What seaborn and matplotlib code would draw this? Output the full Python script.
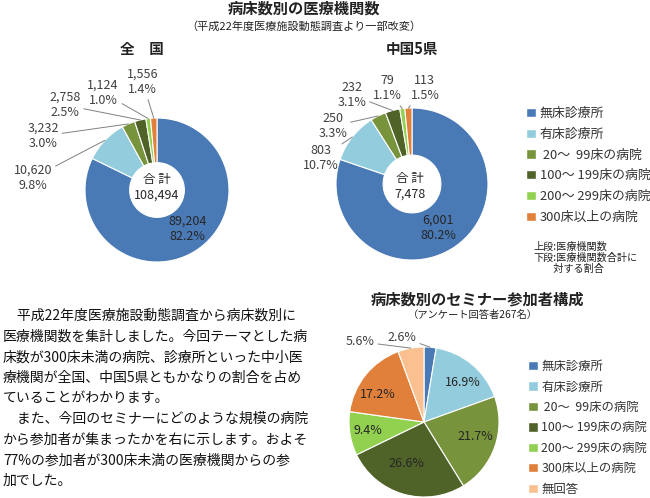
import numpy as np
import matplotlib
matplotlib.use('Agg')
import matplotlib.pyplot as plt
import seaborn as sns
from matplotlib.patches import Patch

# data
categories = ['無床診療所', '有床診療所', ' 20～  99床の病院', '100～ 199床の病院',
              '200～ 299床の病院', '300床以上の病院']
national_counts = [89204, 10620, 3232, 2758, 1124, 1556]
chugoku_counts = [6001, 803, 250, 232, 79, 113]
seminar_categories = categories + ['無回答']
seminar_pct = [2.6, 16.9, 21.7, 26.6, 9.4, 17.2, 5.6]

colors = ['#4a7ab5', '#93cddd', '#77933c', '#4f6228', '#92d050', '#e0803a', '#fac090']

body_lines = [
    '　平成22年度医療施設動態調査から病床数別に',
    '医療機関数を集計しました。今回テーマとした病',
    '床数が300床未満の病院、診療所といった中小医',
    '療機関が全国、中国5県ともかなりの割合を占め',
    'ていることがわかります。',
    '　また、今回のセミナーにどのような規模の病院',
    'から参加者が集まったかを右に示します。およそ',
    '77%の参加者が300床未満の医療機関からの参',
    '加でした。',
]

W, H = 650, 498
TXT = '#262626'
LINE = '#808080'

sns.set_theme(style='white')
plt.rcParams['font.family'] = ['Noto Sans CJK JP', 'DejaVu Sans']

fig = plt.figure(figsize=(W / 100, H / 100), dpi=100)


def px_axes(cx, cy, hw, hh):
    return fig.add_axes([(cx - hw) / W, 1 - (cy + hh) / H, 2 * hw / W, 2 * hh / H])


def set_limits(ax, r, hw, hh):
    ax.set_xlim(-hw / r, hw / r)
    ax.set_ylim(-hh / r, hh / r)
    ax.axis('off')


def donut(cx, cy, r, counts, label_pos, value_pos, total_pos):
    hw, hh = 160, 125
    ax = px_axes(cx, cy, hw, hh)
    wedges, _ = ax.pie(counts, colors=colors[:len(counts)], startangle=90, counterclock=False,
                       wedgeprops=dict(width=0.62, edgecolor='white', linewidth=0.8))
    total = sum(counts)
    for i, (w, c) in enumerate(zip(wedges, counts)):
        txt = f'{c:,}\n{c / total * 100:.1f}%'
        if i == 0:
            ax.text(*value_pos, txt, ha='center', va='center', fontsize=9, color=TXT,
                    linespacing=1.25)
        else:
            mid = np.deg2rad((w.theta1 + w.theta2) / 2)
            ax.annotate(txt, xy=(np.cos(mid), np.sin(mid)), xytext=label_pos[i - 1],
                        ha='center', va='center', fontsize=9, color='#404040', linespacing=1.25,
                        arrowprops=dict(arrowstyle='-', color=LINE, lw=0.7, shrinkA=0, shrinkB=0))
    ax.text(*total_pos, f'合 計\n{total:,}', ha='center', va='center', fontsize=9,
            color=TXT, linespacing=1.3)
    set_limits(ax, r, hw, hh)


# headings
fig.text(304 / W, 1 - 9 / H, '病床数別の医療機関数', ha='center', va='center',
         fontsize=11, fontweight='bold', color='#222222')
fig.text(304 / W, 1 - 27 / H, '（平成22年度医療施設動態調査より一部改変）', ha='center',
         va='center', fontsize=8, color='#222222')
fig.text(142 / W, 1 - 49 / H, '全　国', ha='center', va='center', fontsize=10.5,
         fontweight='bold', color='#222222')
fig.text(412 / W, 1 - 49 / H, '中国5県', ha='center', va='center', fontsize=10.5,
         fontweight='bold', color='#222222')

donut(157, 190, 72, national_counts,
      [(-1.72, 0.17), (-1.58, 0.75), (-1.28, 1.18), (-0.75, 1.35), (-0.2, 1.5)],
      (0.42, -0.54), (0, 0.04))
donut(412, 184, 76, chugoku_counts,
      [(-1.2, 0.34), (-1.04, 0.76), (-0.79, 1.17), (-0.33, 1.26), (0.17, 1.26)],
      (0.34, -0.58), (-0.03, -0.03))

leg_kw = dict(loc='upper left', frameon=False, handletextpad=0.3, borderpad=0,
              borderaxespad=0, labelcolor='#333333')
fig.legend([Patch(facecolor=c) for c in colors[:6]], categories,
           bbox_to_anchor=(526 / W, 1 - 107 / H), fontsize=9.3, handlelength=0.75,
           handleheight=0.75, labelspacing=0.6, **leg_kw)

for i, s in enumerate(['上段:医療機関数', '下段:医療機関数合計に', '　　対する割合']):
    fig.text(533 / W, 1 - (247 + i * 11) / H, s, ha='left', va='center', fontsize=7.3,
             color='#222222')

# body text
for i, s in enumerate(body_lines):
    fig.text(3 / W, 1 - (316 + i * 20.6) / H, s, ha='left', va='center', fontsize=10,
             color='#111111')

# seminar pie
fig.text(477 / W, 1 - 300 / H, '病床数別のセミナー参加者構成', ha='center', va='center',
         fontsize=11, fontweight='bold', color='#222222')
fig.text(473 / W, 1 - 315 / H, '（アンケート回答者267名）', ha='center', va='center',
         fontsize=7.4, color='#222222')

pcx, pcy, pr, phw, phh = 424, 422, 75, 100, 90
ax = px_axes(pcx, pcy, phw, phh)
wedges, _ = ax.pie(seminar_pct, colors=colors, startangle=90, counterclock=False,
                   wedgeprops=dict(edgecolor='white', linewidth=0.8))
pie_label_pos = [(-0.29, 1.13), (0.52, 0.52), (0.68, -0.2), (-0.23, -0.55),
                 (-0.75, -0.11), (-0.61, 0.36), (-0.85, 1.07)]
for i, (w, p) in enumerate(zip(wedges, seminar_pct)):
    if i in (0, 6):
        mid = np.deg2rad((w.theta1 + w.theta2) / 2)
        ax.annotate(f'{p:.1f}%', xy=(np.cos(mid), np.sin(mid)), xytext=pie_label_pos[i],
                    ha='center', va='center', fontsize=9, color='#404040',
                    arrowprops=dict(arrowstyle='-', color=LINE, lw=0.7, shrinkA=0, shrinkB=0))
    else:
        ax.text(*pie_label_pos[i], f'{p:.1f}%', ha='center', va='center', fontsize=9, color=TXT)
set_limits(ax, pr, phw, phh)

fig.legend([Patch(facecolor=c) for c in colors], seminar_categories,
           bbox_to_anchor=(528 / W, 1 - 360 / H), fontsize=8.9, handlelength=0.78,
           handleheight=0.78, labelspacing=0.6, **leg_kw)

fig.savefig('out.png', dpi=100, facecolor='white')
